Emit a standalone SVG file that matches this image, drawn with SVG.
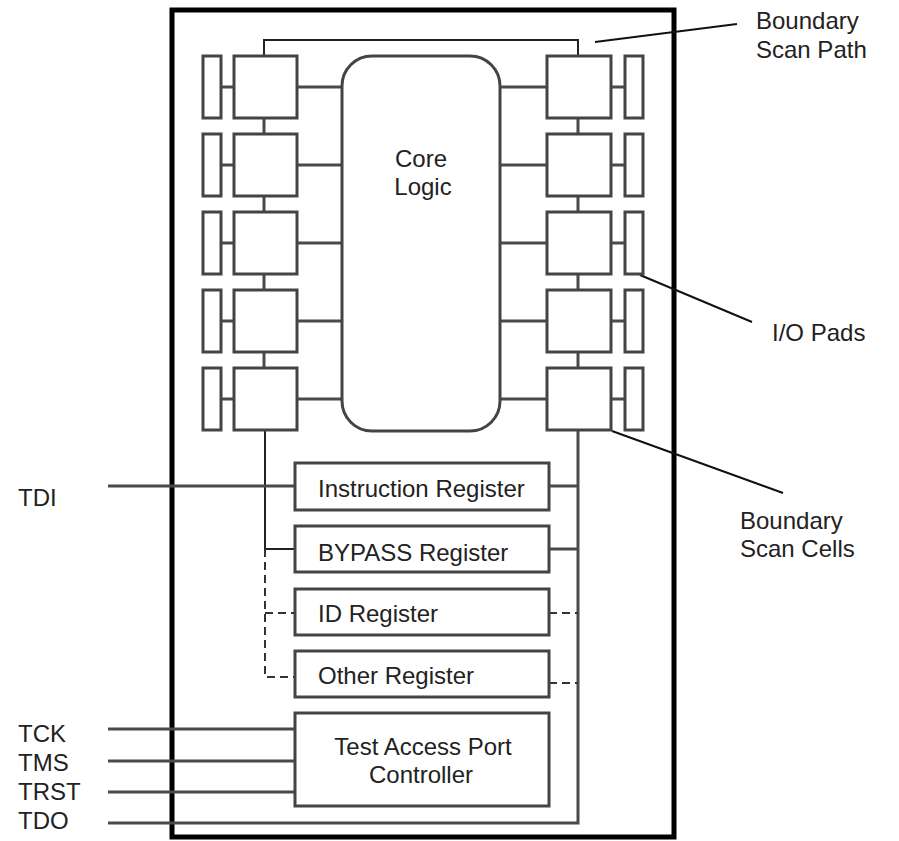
<svg xmlns="http://www.w3.org/2000/svg" width="899" height="841" viewBox="0 0 899 841">
<style>
.box{fill:#fff;stroke:#444;stroke-width:3}
.w{fill:none;stroke:#4a4a4a;stroke-width:3}
.thin{fill:none;stroke:#222;stroke-width:2}
.dash{fill:none;stroke:#333;stroke-width:2;stroke-dasharray:8 5}
.lead{fill:none;stroke:#111;stroke-width:2}
text{font-family:"Liberation Sans",Arial,sans-serif;font-size:24px;fill:#222}
.c{text-anchor:middle}
</style>
<rect width="899" height="841" fill="#fff"/>
<g id="chip"><rect x="172" y="10" width="502" height="827" fill="none" stroke="#000" stroke-width="5"/></g>
<g id="connectors">
<path class="thin" d="M264 56V40H578V56"/>
<path class="w" d="M264 118V134M264 196V212M264 274V290M264 352V368"/>
<path class="w" d="M578 118V134M578 196V212M578 274V290M578 352V368"/>
<path class="w" d="M221 87H234M221 165H234M221 243H234M221 321H234M221 399H234"/>
<path class="w" d="M297 87H342M297 165H342M297 243H342M297 321H342M297 399H342"/>
<path class="w" d="M500 87H547M500 165H547M500 243H547M500 321H547M500 399H547"/>
<path class="w" d="M611 87H625M611 165H625M611 243H625M611 321H625M611 399H625"/>
<path class="thin" d="M265 430V549H295"/>
<path class="dash" d="M265 549V677H295M265 613H295"/>
<path class="w" d="M108 486H295"/>
<path class="w" d="M578 430V823H108"/>
<path class="w" d="M549 486H578M549 549H578"/>
<path class="dash" d="M549 613H578M549 683H578"/>
<path class="w" d="M108 729H295M108 761H295M108 792H295"/>
<path class="lead" d="M595 42L737 24M640 275L752 322M612 431L783 493"/>
</g>
<g id="core"><rect class="box" x="342" y="56" width="158" height="375" rx="30"/><text class="c" x="421" y="167">Core</text><text class="c" x="423" y="195">Logic</text></g>
<g id="pads-left">
<rect class="box" x="203" y="56" width="18" height="62"/><rect class="box" x="203" y="134" width="18" height="62"/><rect class="box" x="203" y="212" width="18" height="62"/><rect class="box" x="203" y="290" width="18" height="62"/><rect class="box" x="203" y="368" width="18" height="62"/>
</g>
<g id="cells-left">
<rect class="box" x="234" y="56" width="63" height="62"/><rect class="box" x="234" y="134" width="63" height="62"/><rect class="box" x="234" y="212" width="63" height="62"/><rect class="box" x="234" y="290" width="63" height="62"/><rect class="box" x="234" y="368" width="63" height="62"/>
</g>
<g id="cells-right">
<rect class="box" x="547" y="56" width="64" height="62"/><rect class="box" x="547" y="134" width="64" height="62"/><rect class="box" x="547" y="212" width="64" height="62"/><rect class="box" x="547" y="290" width="64" height="62"/><rect class="box" x="547" y="368" width="64" height="62"/>
</g>
<g id="pads-right">
<rect class="box" x="625" y="56" width="18" height="62"/><rect class="box" x="625" y="134" width="18" height="62"/><rect class="box" x="625" y="212" width="18" height="62"/><rect class="box" x="625" y="290" width="18" height="62"/><rect class="box" x="625" y="368" width="18" height="62"/>
</g>
<g id="instruction-register"><rect class="box" x="295" y="463" width="254" height="47"/><text x="318" y="497">Instruction Register</text></g>
<g id="bypass-register"><rect class="box" x="295" y="526" width="254" height="46"/><text x="318" y="561">BYPASS Register</text></g>
<g id="id-register"><rect class="box" x="295" y="589" width="254" height="46"/><text x="318" y="622">ID Register</text></g>
<g id="other-register"><rect class="box" x="295" y="651" width="254" height="46"/><text x="318" y="684">Other Register</text></g>
<g id="tap-controller"><rect class="box" x="295" y="713" width="254" height="93"/><text class="c" x="423" y="755">Test Access Port</text><text class="c" x="421" y="783">Controller</text></g>
<g id="labels">
<text x="756" y="29">Boundary</text><text x="756" y="58">Scan Path</text>
<text x="772" y="341">I/O Pads</text>
<text x="740" y="529">Boundary</text><text x="740" y="557">Scan Cells</text>
<text x="18" y="506">TDI</text>
<text x="18" y="742">TCK</text><text x="18" y="771">TMS</text><text x="18" y="800">TRST</text><text x="18" y="829">TDO</text>
</g>
</svg>
